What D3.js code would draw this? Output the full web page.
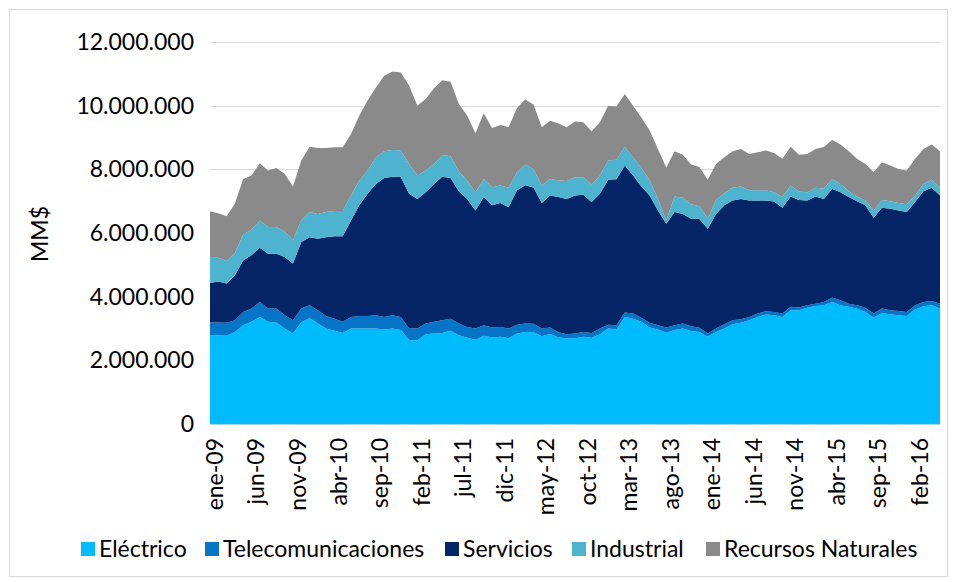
<!DOCTYPE html>
<html>
<head>
<meta charset="utf-8">
<script src="https://cdn.jsdelivr.net/npm/d3@7"></script>
<style>
  body { margin: 0; background: #fff; }
  svg text { font-family: Lato, "Open Sans", sans-serif; fill: #000; }
</style>
</head>
<body>
<svg id="chart" width="955" height="582"></svg>
<script>
// valores en millones (el eje muestra MM$ completos)
const SERIES = ['Eléctrico', 'Telecomunicaciones', 'Servicios', 'Industrial', 'Recursos Naturales'];
const COLORS = ['#00BCFD', '#0675C7', '#062566', '#4DB3CF', '#8A8A8A'];
const MESES = ['ene', 'feb', 'mar', 'abr', 'may', 'jun', 'jul', 'ago', 'sep', 'oct', 'nov', 'dic'];
const Y_TICKS = [0, 2, 4, 6, 8, 10, 12];

const electrico = [
	2.79, 2.79, 2.77, 2.89, 3.10, 3.21, 3.36, 3.21, 3.19, 3.00, 2.84, 3.19, 3.33,
	3.16, 3.00, 2.93, 2.86, 3.00, 3.00, 3.00, 3.00, 2.97, 3.00, 2.95, 2.63, 2.63,
	2.82, 2.84, 2.86, 2.93, 2.79, 2.71, 2.65, 2.77, 2.72, 2.74, 2.69, 2.84, 2.89,
	2.89, 2.76, 2.83, 2.72, 2.69, 2.69, 2.74, 2.71, 2.82, 3.00, 2.97, 3.36, 3.31,
	3.21, 3.03, 2.97, 2.87, 2.95, 3.00, 2.92, 2.89, 2.74, 2.89, 3.00, 3.13, 3.18,
	3.26, 3.36, 3.44, 3.42, 3.36, 3.57, 3.57, 3.65, 3.71, 3.73, 3.83, 3.73, 3.68,
	3.63, 3.52, 3.34, 3.49, 3.45, 3.42, 3.39, 3.60, 3.70, 3.73, 3.63
];
const telecom = [
	0.40, 0.40, 0.41, 0.37, 0.42, 0.42, 0.47, 0.42, 0.44, 0.42, 0.42, 0.44, 0.40,
	0.41, 0.39, 0.38, 0.35, 0.36, 0.39, 0.39, 0.42, 0.39, 0.42, 0.41, 0.37, 0.37,
	0.34, 0.37, 0.40, 0.38, 0.37, 0.34, 0.35, 0.33, 0.31, 0.31, 0.31, 0.28, 0.27,
	0.26, 0.24, 0.20, 0.16, 0.13, 0.15, 0.15, 0.15, 0.18, 0.12, 0.13, 0.14, 0.16,
	0.13, 0.15, 0.13, 0.16, 0.15, 0.16, 0.15, 0.13, 0.10, 0.11, 0.13, 0.13, 0.11,
	0.10, 0.11, 0.10, 0.10, 0.11, 0.11, 0.09, 0.08, 0.07, 0.10, 0.14, 0.16, 0.10,
	0.10, 0.13, 0.13, 0.14, 0.12, 0.13, 0.13, 0.13, 0.13, 0.13, 0.15
];
const servicios = [
	1.24, 1.29, 1.23, 1.41, 1.62, 1.67, 1.71, 1.72, 1.72, 1.83, 1.78, 2.09, 2.14,
	2.25, 2.48, 2.59, 2.69, 3.03, 3.48, 3.84, 4.12, 4.37, 4.35, 4.40, 4.23, 4.07,
	4.12, 4.33, 4.51, 4.42, 4.15, 4.02, 3.71, 4.03, 3.84, 3.89, 3.81, 4.22, 4.34,
	4.28, 3.94, 4.15, 4.25, 4.25, 4.34, 4.31, 4.11, 4.23, 4.55, 4.59, 4.62, 4.34,
	4.12, 4.00, 3.61, 3.26, 3.56, 3.44, 3.38, 3.42, 3.29, 3.60, 3.74, 3.76, 3.78,
	3.66, 3.55, 3.48, 3.47, 3.32, 3.47, 3.38, 3.29, 3.37, 3.24, 3.42, 3.39, 3.35,
	3.27, 3.22, 3.01, 3.16, 3.19, 3.16, 3.14, 3.24, 3.48, 3.56, 3.40
];
const industrial = [
	0.79, 0.74, 0.71, 0.70, 0.81, 0.80, 0.85, 0.84, 0.84, 0.80, 0.73, 0.67, 0.79,
	0.78, 0.79, 0.79, 0.79, 0.79, 0.78, 0.73, 0.84, 0.84, 0.84, 0.84, 0.94, 0.74,
	0.68, 0.63, 0.68, 0.68, 0.62, 0.58, 0.57, 0.57, 0.57, 0.55, 0.61, 0.57, 0.65,
	0.57, 0.55, 0.52, 0.52, 0.56, 0.57, 0.55, 0.55, 0.58, 0.61, 0.61, 0.59, 0.57,
	0.59, 0.47, 0.36, 0.10, 0.49, 0.51, 0.45, 0.40, 0.32, 0.44, 0.38, 0.40, 0.39,
	0.32, 0.32, 0.32, 0.29, 0.34, 0.34, 0.26, 0.26, 0.27, 0.32, 0.31, 0.26, 0.18,
	0.15, 0.15, 0.23, 0.25, 0.24, 0.23, 0.24, 0.21, 0.23, 0.25, 0.24
];
const recursos = [
	1.46, 1.40, 1.41, 1.55, 1.75, 1.71, 1.80, 1.77, 1.85, 1.81, 1.69, 1.89, 2.05,
	2.07, 2.01, 2.00, 2.00, 1.93, 2.04, 2.20, 2.19, 2.37, 2.46, 2.44, 2.46, 2.19,
	2.25, 2.38, 2.35, 2.34, 2.12, 2.04, 1.85, 2.06, 1.86, 1.90, 1.90, 2.02, 2.04,
	2.04, 1.83, 1.83, 1.79, 1.69, 1.75, 1.73, 1.68, 1.67, 1.72, 1.67, 1.66, 1.62,
	1.58, 1.57, 1.57, 1.66, 1.42, 1.35, 1.25, 1.23, 1.22, 1.13, 1.13, 1.15, 1.18,
	1.14, 1.20, 1.25, 1.23, 1.20, 1.22, 1.16, 1.20, 1.22, 1.31, 1.22, 1.24, 1.26,
	1.18, 1.15, 1.20, 1.18, 1.12, 1.07, 1.06, 1.15, 1.10, 1.11, 1.15
];

const LEFT = 210;
const RIGHT = 940;
const BOTTOM = 424;
const TOP = 42;
const FONT_SIZE = 23;

// meses ene-09 .. may-16
const months = d3.timeMonth.range(new Date(2009, 0, 1), new Date(2016, 5, 1));
const label = d => `${MESES[d.getMonth()]}-${String(d.getFullYear()).slice(2)}`;
const categories = months.map(label);

const rows = categories.map((c, i) => ({
	mes: c,
	[SERIES[0]]: electrico[i],
	[SERIES[1]]: telecom[i],
	[SERIES[2]]: servicios[i],
	[SERIES[3]]: industrial[i],
	[SERIES[4]]: recursos[i]
}));

const stacked = d3.stack().keys(SERIES)(rows);

const x = d3.scalePoint().domain(categories).range([LEFT, RIGHT]);
const y = d3.scaleLinear().domain([0, 12]).range([BOTTOM, TOP]);
const fmt = d3.formatLocale({ decimal: ',', thousands: '.', grouping: [3], currency: ['', '$'] }).format(',d');

const svg = d3.select('#chart');

svg.append('rect')
	.attr('x', 9.5).attr('y', 9.5)
	.attr('width', 938).attr('height', 567)
	.attr('fill', 'none').attr('stroke', '#D9D9D9');

// rejilla
svg.append('g')
	.selectAll('line')
	.data(Y_TICKS.slice(1))
	.join('line')
	.attr('x1', LEFT).attr('x2', RIGHT)
	.attr('y1', d => Math.round(y(d)) + 0.5).attr('y2', d => Math.round(y(d)) + 0.5)
	.attr('stroke', '#D9D9D9');

const area = d3.area()
	.x(d => x(d.data.mes))
	.y0(d => y(d[0]))
	.y1(d => y(d[1]));

svg.append('g')
	.selectAll('path')
	.data(stacked)
	.join('path')
	.attr('d', area)
	.attr('fill', (d, i) => COLORS[i]);

svg.append('line')
	.attr('x1', LEFT).attr('x2', RIGHT)
	.attr('y1', BOTTOM).attr('y2', BOTTOM)
	.attr('stroke', '#4AAFC4').attr('stroke-width', 1.2);

// eje y
const yAxis = d3.axisLeft(y).tickValues(Y_TICKS).tickSize(0).tickPadding(0)
	.tickFormat(d => fmt(d * 1e6));
svg.append('g')
	.attr('transform', 'translate(194,0)')
	.call(yAxis)
	.call(g => g.select('.domain').remove())
	.selectAll('text')
	.attr('font-size', FONT_SIZE)
	.attr('font-family', null);

svg.append('text')
	.attr('transform', 'translate(48,234) rotate(-90)')
	.attr('text-anchor', 'middle')
	.attr('font-size', FONT_SIZE)
	.text('MM$');

// eje x
const xAxis = d3.axisBottom(x)
	.tickValues(categories.filter((c, i) => i % 5 === 0))
	.tickSize(0).tickPadding(0);
svg.append('g')
	.attr('transform', `translate(0,${BOTTOM})`)
	.call(xAxis)
	.call(g => g.select('.domain').remove())
	.selectAll('text')
	.attr('font-size', FONT_SIZE)
	.attr('font-family', null)
	.attr('text-anchor', 'end')
	.attr('dy', '0.35em')
	.attr('transform', 'translate(4,14) rotate(-90)');

// leyenda
const LEGEND_X = [81, 205, 445, 572, 706];
const legend = svg.append('g')
	.selectAll('g')
	.data(SERIES)
	.join('g')
	.attr('transform', (d, i) => `translate(${LEGEND_X[i]},549)`);
legend.append('rect')
	.attr('y', -7).attr('width', 14).attr('height', 14)
	.attr('fill', (d, i) => COLORS[i]);
legend.append('text')
	.attr('x', 18).attr('dy', '0.35em')
	.attr('font-size', FONT_SIZE)
	.text(d => d);
</script>
</body>
</html>
